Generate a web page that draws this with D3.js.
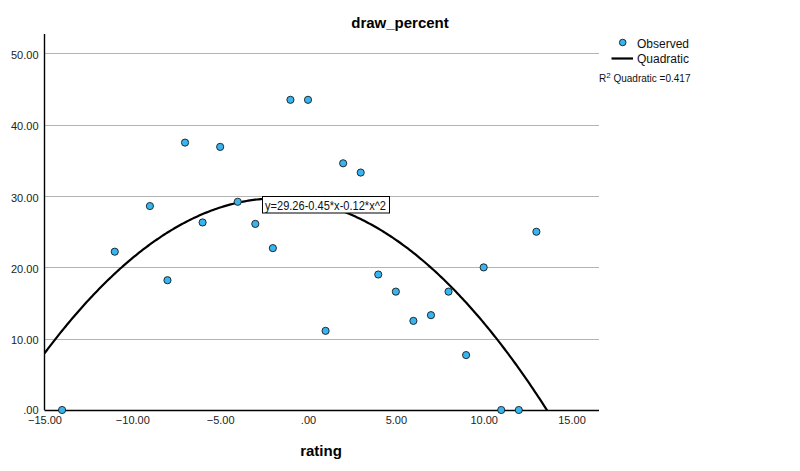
<!DOCTYPE html>
<html>
<head>
<meta charset="utf-8">
<script src="https://cdn.jsdelivr.net/npm/d3@7"></script>
<style>
  body { margin: 0; background: #fff; }
  text { font-family: Arial, "Liberation Sans", sans-serif; }
</style>
</head>
<body>
<div id="chart"></div>
<script>
var rating = [-14, -11, -9, -8, -7, -6, -5, -4, -3, -2, -1, 0, 1, 2, 3, 4, 5, 6, 7, 8, 9, 10, 11, 12, 13];
var drawPercent = [0, 22.2, 28.6, 18.2, 37.5, 26.3, 36.9, 29.2, 26.1, 22.7, 43.5, 43.5, 11.1, 34.6, 33.3, 19.0, 16.6, 12.5, 13.3, 16.6, 7.7, 20.0, 0, 0, 25.0];

var yTicks = [0, 10, 20, 30, 40, 50];
var xTicks = [-15, -10, -5, 0, 5, 10, 15];
var fitLabel = "y=29.26-0.45*x-0.12*x^2";

var svgWidth = 800;
var svgHeight = 471;

var data = rating.map(function (r, i) {
  return { x: r, y: drawPercent[i] };
});

var svg = d3.select("#chart")
  .append("svg")
  .attr("width", svgWidth)
  .attr("height", svgHeight);

var xScale = d3.scaleLinear()
  .domain([-15, 16.565])
  .range([44.5, 599]);

var yScale = d3.scaleLinear()
  .domain([0, 52.73])
  .range([410, 34]);

// SPSS style: ".00" instead of "0.00"
var fmt = function (d) {
  var s = d3.format(".2f")(d);
  return s.replace(/^(-?)0\./, "$1.");
};

// gridlines
svg.append("g")
  .selectAll("line")
  .data(yTicks.filter(d => d > 0))
  .enter()
  .append("line")
  .attr("x1", xScale(-15))
  .attr("x2", 599)
  .attr("y1", d => Math.round(yScale(d)) + 0.5)
  .attr("y2", d => Math.round(yScale(d)) + 0.5)
  .attr("stroke", "#b4b4b4")
  .attr("stroke-width", 1);

// quadratic least squares fit (from the observed points)
var s = [0, 0, 0, 0, 0], t = [0, 0, 0];
data.forEach(function (d) {
  for (var k = 0; k < 5; k++) s[k] += Math.pow(d.x, k);
  for (var k = 0; k < 3; k++) t[k] += d.y * Math.pow(d.x, k);
});
var M = [[s[0], s[1], s[2], t[0]], [s[1], s[2], s[3], t[1]], [s[2], s[3], s[4], t[2]]];
for (var i = 0; i < 3; i++) {
  for (var j = i + 1; j < 3; j++) {
    var f = M[j][i] / M[i][i];
    for (var k = i; k < 4; k++) M[j][k] -= f * M[i][k];
  }
}
var coef = [0, 0, 0];
for (var i = 2; i >= 0; i--) {
  var v = M[i][3];
  for (var k = i + 1; k < 3; k++) v -= M[i][k] * coef[k];
  coef[i] = v / M[i][i];
}

svg.append("clipPath")
  .attr("id", "plotClip")
  .append("rect")
  .attr("x", 44.5)
  .attr("y", 34)
  .attr("width", 599 - 44.5)
  .attr("height", 410 - 34);

var curveX = d3.range(-15, 16.5, 0.1);
var line = d3.line()
  .x(d => xScale(d))
  .y(d => yScale(coef[0] + coef[1] * d + coef[2] * d * d));

svg.append("path")
  .datum(curveX)
  .attr("clip-path", "url(#plotClip)")
  .attr("d", line)
  .attr("fill", "none")
  .attr("stroke", "#000")
  .attr("stroke-width", 2.2);

// axes, no tick marks
var bottomAxis = d3.axisBottom(xScale).tickValues(xTicks).tickSize(0).tickPadding(6).tickFormat(fmt);
var leftAxis = d3.axisLeft(yScale).tickValues(yTicks).tickSize(0).tickPadding(6).tickFormat(fmt);

var xAxis = svg.append("g")
  .attr("transform", "translate(0,410.5)")
  .call(bottomAxis);
xAxis.select(".domain").attr("d", "M44.5,0H599").attr("stroke", "#000").attr("stroke-width", 1.4);

var yAxis = svg.append("g")
  .attr("transform", "translate(44.5,0)")
  .call(leftAxis);
yAxis.select(".domain").attr("d", "M0,34V410").attr("stroke", "#000").attr("stroke-width", 1.4);

svg.selectAll(".tick text")
  .style("font-size", "11px")
  .style("font-family", "Arial, 'Liberation Sans', sans-serif")
  .attr("fill", "#222");
xAxis.selectAll(".tick text").attr("y", 5).attr("dy", "0.8em");
yAxis.selectAll(".tick text").attr("x", -6).attr("dy", "0.45em");
yAxis.selectAll(".tick text").filter(d => d === 0).attr("dy", "0.3em");

// points
svg.append("g")
  .selectAll("circle")
  .data(data)
  .enter()
  .append("circle")
  .attr("cx", d => xScale(d.x))
  .attr("cy", d => yScale(d.y))
  .attr("r", 3.6)
  .attr("fill", "#36b5f0")
  .attr("stroke", "#1b1b1b")
  .attr("stroke-width", 0.9);

// equation label
var lbl = svg.append("g").attr("transform", "translate(262.5,196.5)");
lbl.append("rect")
  .attr("width", 127)
  .attr("height", 16.5)
  .attr("fill", "#fff")
  .attr("stroke", "#000")
  .attr("stroke-width", 1);
lbl.append("text")
  .attr("x", 2.5)
  .attr("y", 13)
  .attr("textLength", 121)
  .attr("lengthAdjust", "spacingAndGlyphs")
  .style("font-size", "12px")
  .attr("fill", "#111")
  .text(fitLabel);

// title and axis label
svg.append("text")
  .attr("x", 400)
  .attr("y", 28)
  .attr("text-anchor", "middle")
  .style("font-size", "15px")
  .style("font-weight", "bold")
  .text("draw_percent");

svg.append("text")
  .attr("x", 321)
  .attr("y", 456)
  .attr("text-anchor", "middle")
  .style("font-size", "15px")
  .style("font-weight", "bold")
  .text("rating");

// legend
var legend = svg.append("g");
legend.append("circle")
  .attr("cx", 622.7)
  .attr("cy", 42.5)
  .attr("r", 3.3)
  .attr("fill", "#36b5f0")
  .attr("stroke", "#1b1b1b")
  .attr("stroke-width", 0.9);
legend.append("text")
  .attr("x", 637)
  .attr("y", 48)
  .style("font-size", "12px")
  .attr("fill", "#111")
  .text("Observed");
legend.append("line")
  .attr("x1", 611.5)
  .attr("x2", 633)
  .attr("y1", 58.5)
  .attr("y2", 58.5)
  .attr("stroke", "#000")
  .attr("stroke-width", 2.2);
legend.append("text")
  .attr("x", 637)
  .attr("y", 63)
  .style("font-size", "12px")
  .attr("fill", "#111")
  .text("Quadratic");

var r2 = legend.append("text")
  .attr("x", 599)
  .attr("y", 82)
  .style("font-size", "10px")
  .attr("fill", "#111");
r2.append("tspan").text("R");
r2.append("tspan").attr("dy", -4).style("font-size", "8px").text("2");
r2.append("tspan").attr("dy", 4).text(" Quadratic =0.417");
</script>
</body>
</html>
